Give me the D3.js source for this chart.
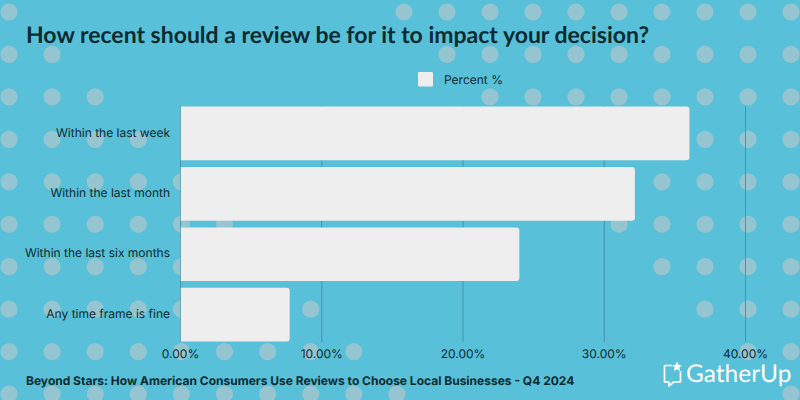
<!DOCTYPE html>
<html><head><meta charset="utf-8">
<script src="https://cdn.jsdelivr.net/npm/d3@7"></script>
<style>html,body{margin:0;padding:0;background:#58c0d8;}svg{display:block;text-rendering:geometricPrecision;}</style>
</head><body><svg id="c" width="800" height="400"></svg>
<script>
const categories = ["Within the last week","Within the last month","Within the last six months","Any time frame is fine"];
const values = [36.03,32.17,23.99,7.73];
const xTicks = [0,10,20,30,40];
const seriesName = "Percent %";
const title = "How recent should a review be for it to impact your decision?";
const footer = "Beyond Stars: How American Consumers Use Reviews to Choose Local Businesses - Q4 2024";
const brand = "GatherUp";

const svg = d3.select("#c");
svg.append("rect").attr("width",800).attr("height",400).attr("fill","#58c0d8");

// dotted background: two triangular patterns
const rows = d3.range(10);
const dots = svg.append("g").attr("fill","#95c5d0");
rows.forEach(r=>{
  const y = 12 + r*42.45;
  d3.range(r+1).forEach(i=>dots.append("circle").attr("cx",9+i*43.1).attr("cy",y).attr("r",8.6));
  d3.range(10-r).forEach(i=>dots.append("circle").attr("cx",791-i*43).attr("cy",y).attr("r",8.6));
});

const x = d3.scaleLinear().domain([0,40]).range([180.5,745.5]);
const y = d3.scaleBand().domain(categories).range([103.2,344.9]).paddingInner(0.112).paddingOuter(0.056);

// grid
svg.append("g").selectAll("line").data(xTicks).join("line")
  .attr("x1",d=>x(d)).attr("x2",d=>x(d)).attr("y1",106).attr("y2",342)
  .attr("stroke","#4a93a8").attr("stroke-width",1);

// bars: square left, rounded right
const r = 3;
svg.append("g").selectAll("path").data(values).join("path")
  .attr("d",(d,i)=>{
    const x0=x(0)+0.3,x1=x(d),y0=y(categories[i]),y1=y0+y.bandwidth();
    return `M${x0},${y0}H${x1-r}Q${x1},${y0} ${x1},${y0+r}V${y1-r}Q${x1},${y1} ${x1-r},${y1}H${x0}Z`;
  }).attr("fill","#eeeeee");

// category labels
svg.append("g").selectAll("text").data(categories).join("text")
  .attr("x",170).attr("y",d=>y(d)+y.bandwidth()/2-1).attr("dy","0.35em")
  .attr("text-anchor","end").attr("font-family","Inter").attr("font-size",12).attr("fill","#0d2a30").text(d=>d);

// x labels
svg.append("g").selectAll("text").data(xTicks).join("text")
  .attr("x",d=>x(d)).attr("y",358).attr("text-anchor","middle")
  .attr("font-family","Inter").attr("font-size",12).attr("fill","#0d2a30").text(d=>d3.format(".2f")(d)+"%");

// title
svg.append("text").attr("x",26).attr("y",43).attr("font-family","Lato").attr("font-weight",700)
  .attr("font-size",23).attr("fill","#0b2b30").text(title);

// legend
svg.append("rect").attr("x",418).attr("y",72).attr("width",15).attr("height",14.5).attr("rx",1).attr("fill","#eeeeee");
svg.append("text").attr("x",444).attr("y",84).attr("font-family","Inter").attr("font-size",12).attr("fill","#0d2a30").text(seriesName);

// footer
svg.append("text").attr("x",26).attr("y",384.5).attr("font-family","Inter").attr("font-weight",700)
  .attr("font-size",12).attr("fill","#0b2b30").text(footer);

// logo
const logo = svg.append("g").attr("fill","none").attr("stroke","#fff").attr("stroke-width",1.7).attr("stroke-linejoin","round");
logo.append("path").attr("d","M672,365.5H664.5V382H669V386L673.5,382H680.5V371");
logo.append("path").attr("d","M677,361.5L678.5,364.8L682,365.2L679.4,367.6L680.1,371L677,369.3L673.9,371L674.6,367.6L672,365.2L675.5,364.8Z").attr("fill","#fff").attr("stroke","none");
svg.append("text").attr("x",686).attr("y",382).attr("font-family","Lato").attr("font-size",24.5).attr("fill","#fff").text(brand);
</script></body></html>
